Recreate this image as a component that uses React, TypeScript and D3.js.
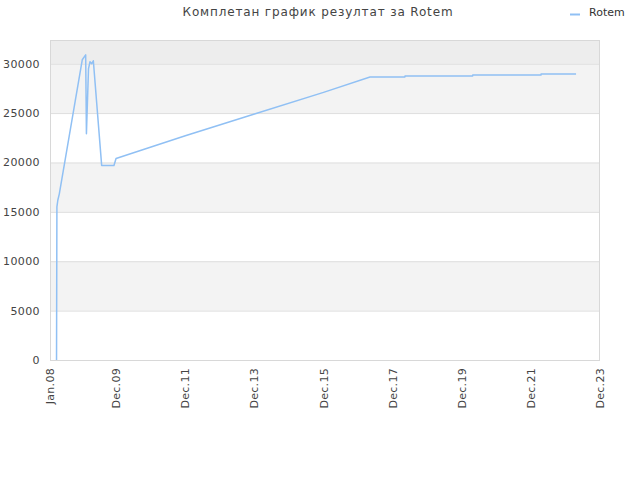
import { useEffect, useRef } from 'react';
import * as d3 from 'd3';

const dates = [
  '2008-03-10', '2008-03-14', '2008-03-24', '2008-04-08', '2008-12-07', '2009-01-12',
  '2009-01-20', '2009-02-11', '2009-02-27', '2009-03-17', '2009-04-03', '2009-06-30',
  '2009-11-07', '2009-11-29', '2011-12-01', '2013-12-01', '2015-12-01', '2017-04-05',
  '2018-04-09', '2018-04-10', '2020-03-25', '2020-03-26', '2022-03-17', '2022-03-18',
  '2023-03-23',
];
const values = [
  0, 15500, 16200, 16800, 30400, 30900,
  22900, 29500, 30200, 30000, 30300, 19700,
  19700, 20400, 22700, 24900, 27100, 28650,
  28650, 28750, 28750, 28850, 28850, 28950,
  28950,
];
const yTicks = [0, 5000, 10000, 15000, 20000, 25000, 30000];
const xTickDates = ['2008-01-01', '2009-12-01', '2011-12-01', '2013-12-01', '2015-12-01', '2017-12-01', '2019-12-01', '2021-12-01', '2023-12-01'];
const xTickLabels = ['Jan.08', 'Dec.09', 'Dec.11', 'Dec.13', 'Dec.15', 'Dec.17', 'Dec.19', 'Dec.21', 'Dec.23'];
const title = 'Комплетан график резултат за Rotem';
const seriesName = 'Rotem';

export default function App() {
  const svgRef = useRef<SVGSVGElement>(null);

  useEffect(() => {
    if (!svgRef.current) return;
    const svg = d3.select(svgRef.current);
    svg.selectAll('*').remove();

    const left = 50, right = 600, top = 40, bottom = 360;
    const font = '"DejaVu Sans", sans-serif';
    const parse = d3.utcParse('%Y-%m-%d');

    const x = d3.scaleUtc()
      .domain([parse(xTickDates[0])!, parse(xTickDates[xTickDates.length - 1])!])
      .range([left, right]);
    const y = d3.scaleLinear().domain([0, 32400]).range([bottom, top]);

    // background bands
    const bandEdges = [...yTicks, y.domain()[1]];
    for (let i = 0; i < bandEdges.length - 1; i++) {
      const fill = i === bandEdges.length - 2 ? '#ededed' : i % 2 === 1 ? '#f3f3f3' : '#ffffff';
      svg.append('rect')
        .attr('x', left)
        .attr('y', y(bandEdges[i + 1]))
        .attr('width', right - left)
        .attr('height', y(bandEdges[i]) - y(bandEdges[i + 1]))
        .attr('fill', fill);
    }

    // grid lines
    svg.append('g')
      .selectAll('line')
      .data(yTicks.slice(1))
      .enter()
      .append('line')
      .attr('x1', left)
      .attr('x2', right)
      .attr('y1', (d) => y(d) + 0.5)
      .attr('y2', (d) => y(d) + 0.5)
      .attr('stroke', '#dedede');

    // frame
    svg.append('rect')
      .attr('x', left + 0.5)
      .attr('y', top + 0.5)
      .attr('width', right - left - 1)
      .attr('height', bottom - top)
      .attr('fill', 'none')
      .attr('stroke', '#d8d8d8');

    // y labels
    svg.append('g')
      .selectAll('text')
      .data(yTicks)
      .enter()
      .append('text')
      .attr('x', left - 10)
      .attr('y', (d) => y(d) + 4)
      .attr('text-anchor', 'end')
      .attr('font-family', font)
      .attr('font-size', '11px')
      .attr('letter-spacing', '0.4px')
      .attr('fill', '#444')
      .text((d) => String(d));

    // x labels
    svg.append('g')
      .selectAll('text')
      .data(xTickDates)
      .enter()
      .append('text')
      .attr('transform', (d) => `translate(${x(parse(d)!) + 4}, 368) rotate(-90)`)
      .attr('text-anchor', 'end')
      .attr('font-family', font)
      .attr('font-size', '11px')
      .attr('letter-spacing', '0.3px')
      .attr('fill', '#444')
      .text((_, i) => xTickLabels[i]);

    // series line
    const points = dates.map((d, i) => [parse(d)!, values[i]] as [Date, number]);
    const line = d3.line<[Date, number]>()
      .x((d) => x(d[0]))
      .y((d) => y(d[1]));
    svg.append('path')
      .datum(points)
      .attr('d', line)
      .attr('fill', 'none')
      .attr('stroke', '#90c0f4')
      .attr('stroke-width', 1.5)
      .attr('stroke-linejoin', 'round');

    // title
    svg.append('text')
      .attr('x', 318)
      .attr('y', 16)
      .attr('text-anchor', 'middle')
      .attr('font-family', font)
      .attr('font-size', '12px')
      .attr('letter-spacing', '0.85px')
      .attr('fill', '#444')
      .text(title);

    // legend
    svg.append('line')
      .attr('x1', 570)
      .attr('x2', 580)
      .attr('y1', 14.5)
      .attr('y2', 14.5)
      .attr('stroke', '#90c0f4')
      .attr('stroke-width', 2);
    svg.append('text')
      .attr('x', 589)
      .attr('y', 16)
      .attr('font-family', font)
      .attr('font-size', '11px')
      .attr('fill', '#333')
      .text(seriesName);
  }, []);

  return (
    <div style={{ position: 'absolute', left: 0, top: 0 }}>
      <svg ref={svgRef} width={640} height={480} style={{ display: 'block', background: '#fff' }} />
    </div>
  );
}
